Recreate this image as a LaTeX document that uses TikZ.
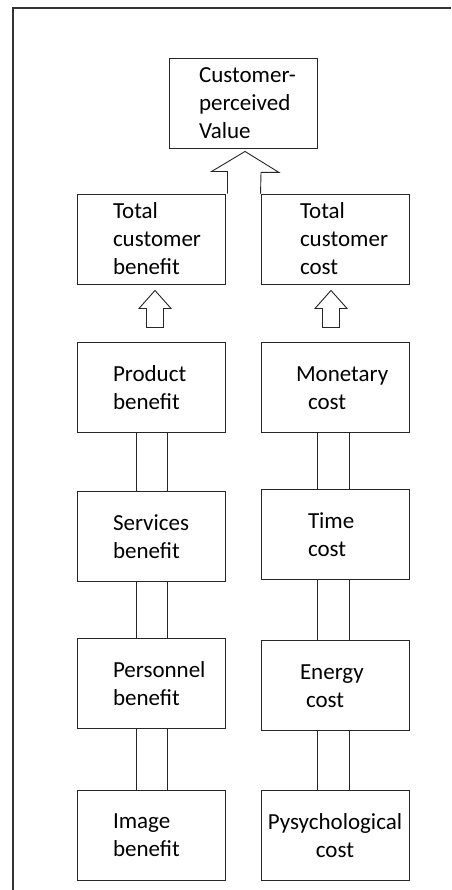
\documentclass[tikz,border=0pt]{standalone}
\usepackage{fontspec}
\setmainfont{Carlito}
\usetikzlibrary{positioning}

\begin{document}
\begin{tikzpicture}[
		x=1pt, y=1pt,
		box/.style  = {draw=black!85, rectangle, line width=0.9pt, minimum width=148pt, minimum height=90pt,
			inner sep=0pt, text width=76pt, align=left,
			font={\fontsize{23}{28}\selectfont\hyphenpenalty=10000\exhyphenpenalty=10000}},
		frame/.style = {draw=black!80},
		outline/.style = {draw=black!85, line width=0.9pt, line join=miter}]
		
		\useasboundingbox (0,0) rectangle (451,-890);
		% frame of the page
		\draw[frame, line width=2pt] (13,-890) -- (13,-8);
		\draw[frame, line width=1.4pt] (12,-8) -- (451,-8);
		
		% top of the chart
		\node[box, text width=88pt] (cpv) at (243,-103) {Customer-\\perceived\\Value};
		\node[box] (tcb) at (151,-239) {Total\\customer\\benefit};
		\node[box, text width=70pt] (tcc) at (335,-239) {Total\\customer\\cost};
		
		% benefit column
		\node[box, below=58pt of tcb] (pb) {Product\\benefit};
		\node[box, below=58pt of pb] (sb) {Services\\benefit};
		\node[box, below=56pt of sb] (peb) {Personnel\\benefit};
		\node[box, below=61pt of peb] (ib) {Image\\benefit};
		
		% cost column
		\node[box, text width=70pt, below=58pt of tcc] (mc) {\hspace*{-4pt}Monetary\\\hspace*{8pt}cost};
		\node[box, text width=70pt, below=56pt of mc] (tc) {\hspace*{8pt}Time\\\hspace*{8pt}cost};
		\node[box, text width=70pt, below=60pt of tc] (ec) {Energy\\\hspace*{6pt}cost};
		\node[box, text width=140pt, align=center, below=59pt of ec] (psc) {Pysychological\\cost};
		
		% double lines between the boxes of a column
		\foreach \a/\b in {pb/sb, sb/peb, peb/ib}
		\draw[outline] ([xshift=-15pt]\a.south) -- ([xshift=-15pt]\b.north)
		([xshift=16pt]\a.south) -- ([xshift=16pt]\b.north);
		
		\foreach \a/\b in {mc/tc, tc/ec, ec/psc}
		\draw[outline] ([xshift=-18pt]\a.south) -- ([xshift=-18pt]\b.north)
		([xshift=14pt]\a.south) -- ([xshift=14pt]\b.north);
		
		% big arrow up to the value
		\draw[outline] ([xshift=2pt]tcb.north east) -- ++(0,22) -- ++(-16,0)
		-- ([xshift=2pt,yshift=-3pt]cpv.south) -- ++(34,-21) -- ++(-18,0) -- (tcc.north west);
		
		% small arrows up to the totals
		\foreach \n/\dx in {tcb/4, tcc/-4}
		\draw[outline] ([xshift=\dx pt,yshift=-6pt]\n.south) -- ++(16,-18) -- ++(-7.5,0) -- ++(0,-19)
		-- ++(-17,0) -- ++(0,19) -- ++(-7.5,0) -- cycle;
\end{tikzpicture}
\end{document}
